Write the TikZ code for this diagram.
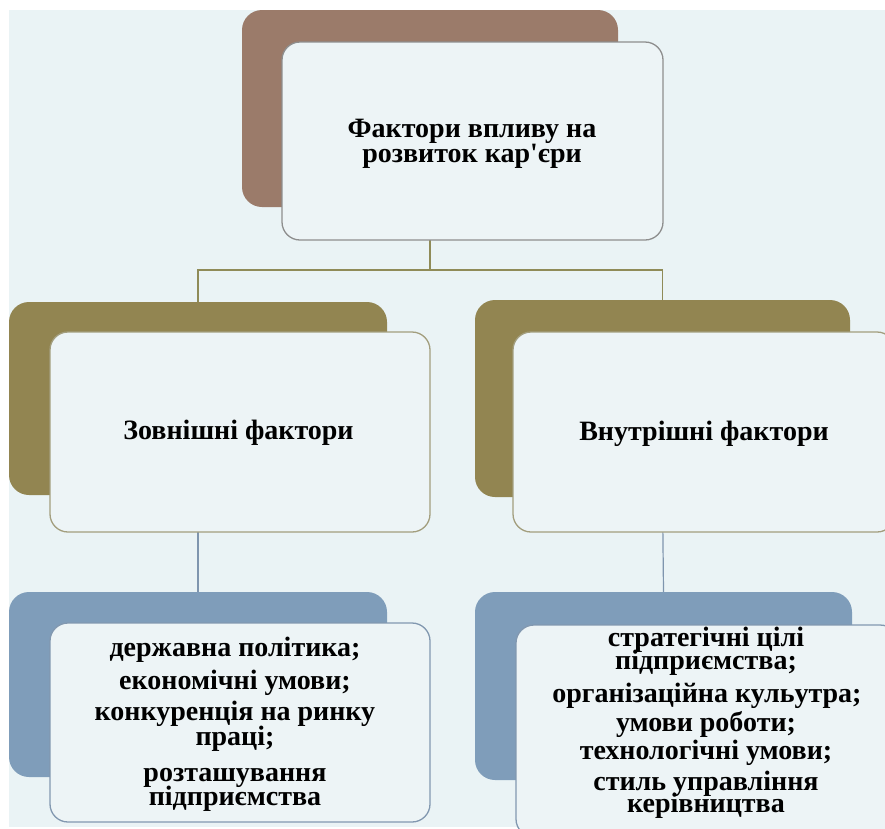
\documentclass[tikz,border=0pt]{standalone}
\usepackage{fontspec}
\setmainfont{Liberation Serif}[Ligatures=TeXOff]
\definecolor{bgc}{HTML}{EAF3F5}
\definecolor{innerc}{HTML}{EDF4F6}
\definecolor{brownc}{HTML}{9B7B6A}
\definecolor{olivec}{HTML}{928551}
\definecolor{bluec}{HTML}{7F9DBA}
\definecolor{grayline}{HTML}{8E8E8E}
\definecolor{oliveline}{HTML}{A39E7E}
\definecolor{blueline}{HTML}{8298B0}
\definecolor{connolive}{HTML}{8F8B58}
\definecolor{connblue}{HTML}{7F95AE}
\newcommand{\tightlines}{\lineskiplimit=-60pt\relax}
\tikzset{
  backbox/.style={rectangle, rounded corners=20pt, draw=none, inner sep=0pt},
  innerbox/.style={rectangle, rounded corners=18pt, fill=innerc, line width=1.3pt, inner sep=0pt},
  txt/.style={font={\fontsize{28}{#1}\selectfont\bfseries\tightlines}, align=center, anchor=base, inner sep=0pt, text=black},
  txt/.default=24,
}
\begin{document}
\begin{tikzpicture}[x=1pt,y=-1pt]
\useasboundingbox (0,0) rectangle (885,828);
\clip (0,0) rectangle (885,828);
\fill[bgc] (9,10) rectangle (885,827);

% back boxes
\node[backbox, fill=brownc, minimum width=376pt, minimum height=197pt] (topback) at (430,108.5) {};
\node[backbox, fill=olivec, minimum width=378pt, minimum height=193pt] (lback) at (198,398.5) {};
\node[backbox, fill=olivec, minimum width=375pt, minimum height=197pt] (rback) at (662.5,398.5) {};
\node[backbox, fill=bluec, minimum width=378pt, minimum height=185pt] (blback) at (198,684.5) {};
\node[backbox, fill=bluec, minimum width=377pt, minimum height=188pt] (brback) at (663.5,686) {};

% connectors
\coordinate (hub) at (430,270);
\draw[connolive, line width=1.2pt] (topback.south) -- (hub);
\draw[connolive, line width=1.2pt] (hub) -| (lback.north);
\draw[connolive, line width=1.2pt] (hub) -| (rback.north);
\draw[connblue, line width=1.2pt] (lback.south) -- (blback.north);
\draw[connblue, line width=1.2pt] (rback.south) -- (brback.north);

% front boxes
\node[innerbox, draw=grayline, minimum width=381pt, minimum height=198pt] (topin) at (472.5,141) {};
\node[innerbox, draw=oliveline, minimum width=380pt, minimum height=200pt] (lin) at (240,432) {};
\node[innerbox, draw=oliveline, minimum width=382pt, minimum height=200pt] (rin) at (704,432) {};
\node[innerbox, draw=blueline, minimum width=380pt, minimum height=199pt] (blin) at (240,722.5) {};
\node[innerbox, draw=blueline, minimum width=382pt, minimum height=212pt] (brin) at (707,731) {};

% texts (anchor base = baseline of the last line)
\node[txt=25] (toptext) at (472,162.3) {Фактори впливу на\\розвиток кар'єри};
\node[txt] (lt) at (238.5,439.3) {Зовнішні фактори};
\node[txt] (rt) at (704,440) {Внутрішні фактори};

\node[txt] (bl1) at (235,656.7) {державна політика;};
\node[txt] (bl2) at (235,689) {економічні умови;};
\node[txt=24.3] (bl3) at (235,745) {конкуренція на ринку\\праці;};
\node[txt=23.3] (bl4) at (235,805) {розташування\\підприємства};

\node[txt=22.3] (br1) at (706,669) {стратегічні цілі\\підприємства;};
\node[txt] (br2) at (707,702.7) {організаційна кульутра;};
\node[txt] (br3) at (706,731.7) {умови роботи;};
\node[txt] (br4) at (706,759) {технологічні умови;};
\node[txt=22.7] (br5) at (706,812.7) {стиль управління\\керівництва};
\end{tikzpicture}
\end{document}
